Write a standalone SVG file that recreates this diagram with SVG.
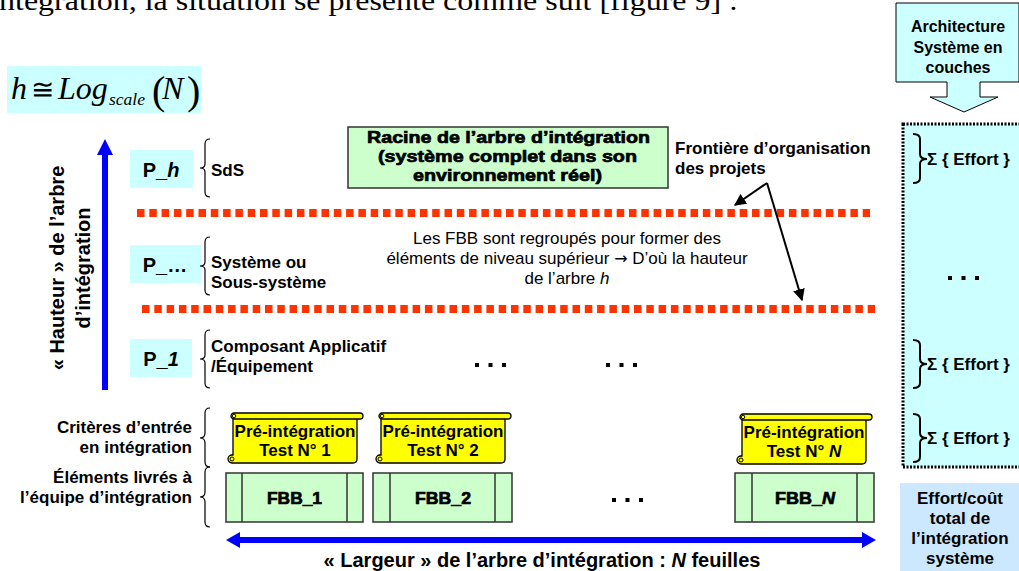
<svg xmlns="http://www.w3.org/2000/svg" xmlns:xlink="http://www.w3.org/1999/xlink" width="1019" height="571" viewBox="0 0 1019 571">
<style>
.b{font-family:"Liberation Sans",Arial,sans-serif;font-weight:bold;fill:#000}
.r{font-family:"Liberation Sans",Arial,sans-serif;fill:#000}
.k{font-family:"Liberation Sans",Arial,sans-serif;font-weight:bold;fill:#000;stroke:#000;stroke-width:0.7}
.brace{fill:none;stroke:#000;stroke-width:1.2}
.braceR{fill:none;stroke:#000;stroke-width:2}
.pbox{fill:#CCFFFF}
.fbb{fill:#CCFFCC;stroke:#333;stroke-width:1.5}
.red{stroke:#FF3300;stroke-width:8;stroke-dasharray:7.5 4.8;fill:none}
.blue{stroke:#0000FF;stroke-width:6;fill:none}
</style>
<defs>
<marker id="ah" viewBox="0 0 10 10" refX="9" refY="5" markerWidth="6" markerHeight="6" orient="auto" markerUnits="strokeWidth">
<path d="M0,0 L10,5 L0,10 Z" fill="#000"/>
</marker>
<g id="scroll">
<path d="M6,5 H130 V46 Q130,50 126,50 H5 A4,4 0 0 1 5,42 H6 Z" fill="#FFFF00" stroke="#000" stroke-width="1.3"/>
<rect x="4" y="0" width="132" height="6" rx="3" fill="#FFFF00" stroke="#000" stroke-width="1.3"/>
<circle cx="7" cy="3" r="1.8" fill="none" stroke="#000" stroke-width="1"/>
<circle cx="5" cy="46" r="2" fill="none" stroke="#000" stroke-width="1"/>
</g>
<g id="dots3">
<rect x="-2" y="-2" width="4" height="4"/>
<rect x="11.5" y="-2" width="4" height="4"/>
<rect x="25" y="-2" width="4" height="4"/>
</g>
</defs>
<rect width="1019" height="571" fill="#FFFFFF"/>

<text x="-1" y="10" font-family="'Liberation Serif','Times New Roman',serif" font-size="27" textLength="739" lengthAdjust="spacingAndGlyphs">ntégration, la situation se présente comme suit [figure 9] :</text>

<g id="formula">
<rect x="7" y="66" width="194" height="47" fill="#CCFFFF"/>
<text x="11" y="99" font-family="'Liberation Serif','Times New Roman',serif" font-size="32" font-style="italic">h</text>
<text x="31" y="99" font-family="'Liberation Serif','DejaVu Serif',serif" font-size="28">≅</text>
<text x="58" y="99" font-family="'Liberation Serif','Times New Roman',serif" font-size="32" font-style="italic">Log</text>
<text x="109" y="105" font-family="'Liberation Serif','Times New Roman',serif" font-size="17.5" font-style="italic">scale</text>
<text x="152" y="104" font-family="'Liberation Serif','Times New Roman',serif" font-size="40">(</text>
<text x="162" y="99" font-family="'Liberation Serif','Times New Roman',serif" font-size="32" font-style="italic">N</text>
<text x="187" y="104" font-family="'Liberation Serif','Times New Roman',serif" font-size="40">)</text>
</g>

<g id="height-label">
<text class="b" font-size="20" text-anchor="middle" transform="translate(64,268) rotate(-90)">« Hauteur » de l’arbre</text>
<text class="b" font-size="20" text-anchor="middle" transform="translate(90,268) rotate(-90)">d’intégration</text>
</g>

<g id="frontiers">
<line class="red" x1="137" y1="213" x2="870" y2="213"/>
<line class="red" x1="142" y1="309" x2="875" y2="309"/>
</g>

<g id="level-h">
<rect class="pbox" x="130" y="150" width="63" height="38"/>
<text class="b" font-size="20" x="161" y="177" text-anchor="middle">P_<tspan font-style="italic">h</tspan></text>
<path class="brace" d="M210,139 Q205,139 205,144 V164 Q205,168 200,168 Q205,168 205,172 V192 Q205,197 210,197"/>
<text class="b" font-size="17" x="211" y="176">SdS</text>
</g>

<g id="level-mid">
<rect class="pbox" x="130" y="245" width="71" height="38"/>
<text class="b" font-size="20" x="165" y="272" text-anchor="middle">P_…</text>
<path class="brace" d="M210,237 Q205,237 205,242 V262 Q205,266 200,266 Q205,266 205,270 V290 Q205,295 210,295"/>
<text class="b" font-size="17" x="211" y="268">Système ou</text>
<text class="b" font-size="17" x="211" y="288">Sous-système</text>
</g>

<g id="level-1">
<rect class="pbox" x="130" y="339" width="62" height="38"/>
<text class="b" font-size="20" x="161" y="366" text-anchor="middle">P_<tspan font-style="italic">1</tspan></text>
<path class="brace" d="M210,330 Q205,330 205,335 V355 Q205,359 200,359 Q205,359 205,363 V383 Q205,388 210,388"/>
<text class="b" font-size="17" x="211" y="352">Composant Applicatif</text>
<text class="b" font-size="17" x="211" y="372">/Équipement</text>
</g>

<g id="root">
<rect x="348" y="127" width="320" height="61" fill="#CCFFCC" stroke="#333" stroke-width="1.5"/>
<text class="k" font-size="17" x="367" y="143" textLength="283" lengthAdjust="spacingAndGlyphs">Racine de l’arbre d’intégration</text>
<text class="k" font-size="17" x="378" y="162" textLength="259" lengthAdjust="spacingAndGlyphs">(système complet dans son</text>
<text class="k" font-size="17" x="413" y="181" textLength="189" lengthAdjust="spacingAndGlyphs">environnement réel)</text>
</g>

<g id="frontier-label">
<text class="b" font-size="17" x="675" y="154">Frontière d’organisation</text>
<text class="b" font-size="17" x="675" y="174">des projets</text>
</g>

<g id="grouping-note">
<text class="r" font-size="17" text-anchor="middle" x="567" y="244">Les FBB sont regroupés pour former des</text>
<text class="r" font-size="17" text-anchor="middle" x="567" y="264">éléments de niveau supérieur <tspan font-family="'DejaVu Sans',sans-serif" font-size="16">→</tspan> D’où la hauteur</text>
<text class="r" font-size="17" text-anchor="middle" x="567" y="284">de l’arbre <tspan font-style="italic">h</tspan></text>
</g>

<g id="dots-mid">
<use xlink:href="#dots3" x="477" y="365"/>
<use xlink:href="#dots3" x="608" y="365"/>
</g>

<g id="arch-callout">
<path d="M896,3 H1019 V82 H980 V97 H998 L964,112 L930,97 H947 V82 H896 Z" fill="#CCFFFF" stroke="#000" stroke-width="1"/>
<text class="b" font-size="16" text-anchor="middle" x="958" y="32">Architecture</text>
<text class="b" font-size="16" text-anchor="middle" x="958" y="53">Système en</text>
<text class="b" font-size="16" text-anchor="middle" x="958" y="73">couches</text>
</g>

<g id="effort-column">
<rect x="903" y="124" width="120" height="343" fill="#CCFFFF" stroke="#000" stroke-width="3" stroke-dasharray="2 1.5"/>
<path class="braceR" d="M913,134 Q920,134 920,139 V154 Q920,159 927,159 Q920,159 920,164 V178 Q920,183 913,183"/>
<text class="b" font-size="17" x="927" y="165">Σ { Effort }</text>
<use xlink:href="#dots3" x="950" y="278"/>
<path class="braceR" d="M913,340 Q920,340 920,345 V359 Q920,364 927,364 Q920,364 920,369 V383 Q920,388 913,388"/>
<text class="b" font-size="17" x="927" y="370">Σ { Effort }</text>
<path class="braceR" d="M913,414 Q920,414 920,419 V433 Q920,438 927,438 Q920,438 920,443 V457 Q920,462 913,462"/>
<text class="b" font-size="17" x="927" y="444">Σ { Effort }</text>
</g>

<g id="total-effort">
<rect x="900" y="483" width="119" height="88" fill="#CCE8FF"/>
<text class="b" font-size="17" text-anchor="middle" x="960" y="504">Effort/coût</text>
<text class="b" font-size="17" text-anchor="middle" x="960" y="524">total de</text>
<text class="b" font-size="17" text-anchor="middle" x="960" y="544">l’intégration</text>
<text class="b" font-size="17" text-anchor="middle" x="960" y="564">système</text>
</g>

<g id="row-labels">
<text class="b" font-size="17" text-anchor="end" x="192" y="433">Critères d’entrée</text>
<text class="b" font-size="17" text-anchor="end" x="192" y="453">en intégration</text>
<path class="brace" d="M210,408 Q205,408 205,413 V433 Q205,438 200,438 Q205,438 205,443 V462 Q205,467 210,467"/>
<text class="b" font-size="17" text-anchor="end" x="192" y="483">Éléments livrés à</text>
<text class="b" font-size="17" text-anchor="end" x="192" y="503">l’équipe d’intégration</text>
<path class="brace" d="M210,467 Q205,467 205,472 V492 Q205,497 200,497 Q205,497 205,502 V522 Q205,527 210,527"/>
</g>

<g id="test-1">
<use xlink:href="#scroll" x="227" y="413"/>
<text class="b" font-size="17" text-anchor="middle" x="295" y="437">Pré-intégration</text>
<text class="b" font-size="17" text-anchor="middle" x="295" y="456">Test N° 1</text>
</g>
<g id="test-2">
<use xlink:href="#scroll" x="375" y="413"/>
<text class="b" font-size="17" text-anchor="middle" x="443" y="437">Pré-intégration</text>
<text class="b" font-size="17" text-anchor="middle" x="443" y="456">Test N° 2</text>
</g>
<g id="test-n">
<use xlink:href="#scroll" x="736" y="414"/>
<text class="b" font-size="17" text-anchor="middle" x="804" y="438">Pré-intégration</text>
<text class="b" font-size="17" text-anchor="middle" x="804" y="457">Test N° <tspan font-style="italic">N</tspan></text>
</g>

<g id="fbb-1">
<rect class="fbb" x="226" y="473" width="137" height="49"/>
<line x1="242" y1="473" x2="242" y2="522" stroke="#333" stroke-width="1.5"/>
<line x1="347" y1="473" x2="347" y2="522" stroke="#333" stroke-width="1.5"/>
<text class="k" font-size="17" x="267" y="504" textLength="55" lengthAdjust="spacingAndGlyphs">FBB_1</text>
</g>
<g id="fbb-2">
<rect class="fbb" x="373" y="473" width="139" height="49"/>
<line x1="390" y1="473" x2="390" y2="522" stroke="#333" stroke-width="1.5"/>
<line x1="495" y1="473" x2="495" y2="522" stroke="#333" stroke-width="1.5"/>
<text class="k" font-size="17" x="415" y="504" textLength="56" lengthAdjust="spacingAndGlyphs">FBB_2</text>
</g>
<g id="fbb-n">
<rect class="fbb" x="735" y="473" width="139" height="49"/>
<line x1="752" y1="473" x2="752" y2="522" stroke="#333" stroke-width="1.5"/>
<line x1="857" y1="473" x2="857" y2="522" stroke="#333" stroke-width="1.5"/>
<text class="k" font-size="17" x="775" y="504" textLength="60" lengthAdjust="spacingAndGlyphs">FBB_<tspan font-style="italic">N</tspan></text>
</g>
<g id="dots-fbb">
<use xlink:href="#dots3" x="614" y="500"/>
</g>

<g id="connectors">
<line class="blue" x1="105" y1="390" x2="105" y2="153"/>
<path d="M97,155 L105,139 L113,155 Z" fill="#0000FF"/>
<line class="blue" x1="238" y1="540" x2="864" y2="540"/>
<path d="M240,532 L226,540 L240,548 Z" fill="#0000FF"/>
<path d="M862,532 L876,540 L862,548 Z" fill="#0000FF"/>
<line x1="767" y1="183" x2="735" y2="205" stroke="#000" stroke-width="2" marker-end="url(#ah)"/>
<line x1="767" y1="183" x2="802" y2="300" stroke="#000" stroke-width="2" marker-end="url(#ah)"/>
</g>

<g id="width-label">
<text class="b" font-size="20" text-anchor="middle" x="542" y="567">« Largeur » de l’arbre d’intégration : <tspan font-style="italic">N</tspan> feuilles</text>
</g>
</svg>
